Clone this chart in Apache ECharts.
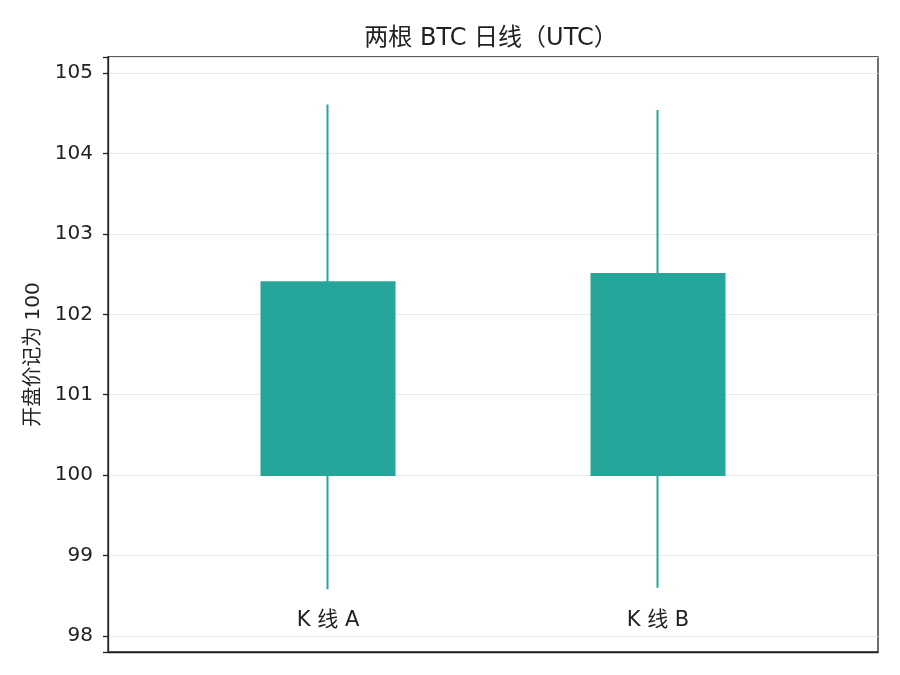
<!DOCTYPE html>
<html>
<head>
<meta charset="utf-8">
<script src="https://cdn.jsdelivr.net/npm/echarts@6/dist/echarts.min.js"></script>
<style>
  html, body { margin: 0; padding: 0; background: #fff; }
  #main { width: 900px; height: 675px; }
</style>
</head>
<body>
<div id="main"></div>
<script>
// 两根日线，开盘价统一记为 100
var slots = ["", "", "K 线 A", "", "", "K 线 B", "", ""];
var opens = [100, 100];
var closes = [102.4, 102.5];
var lows = [98.58, 98.6];
var highs = [104.61, 104.54];
var candleSlots = [2, 5];

var FONT = '"DejaVu Sans", "Noto Sans CJK JP", "Noto Sans CJK SC", sans-serif';
var UP = "#26A69A";

var kdata = slots.map(function () { return "-"; });
candleSlots.forEach(function (s, i) {
  kdata[s] = [opens[i], closes[i], lows[i], highs[i]];
});

var myChart = echarts.init(document.getElementById("main"));
var option = {
  animation: false,
  backgroundColor: "#fff",
  textStyle: { fontFamily: FONT },
  title: {
    text: "两根 BTC 日线（UTC）",
    left: 486,
    textAlign: "center",
    top: 22,
    textStyle: { fontFamily: FONT, fontSize: 24, fontWeight: "normal", color: "#222" },
  },
  grid: {
    left: 108,
    right: 22,
    top: 57,
    bottom: 23,
    show: true,
    borderColor: "#222",
    borderWidth: 1.3,
  },
  xAxis: {
    type: "category",
    data: slots,
    boundaryGap: false,
    axisLine: { show: true, lineStyle: { color: "#222", width: 1.3 } },
    axisTick: { show: false },
    splitLine: { show: false },
    axisLabel: {
      inside: true,
      margin: 21,
      interval: 0,
      fontFamily: FONT,
      fontSize: 21,
      color: "#222",
    },
  },
  yAxis: {
    type: "value",
    min: 97.8,
    max: 105.2,
    splitNumber: 7,
    minInterval: 1,
    maxInterval: 1,
    name: "开盘价记为 100",
    nameLocation: "middle",
    nameGap: 63,
    nameTextStyle: { fontFamily: FONT, fontSize: 20, color: "#222" },
    axisLine: { show: true, lineStyle: { color: "#222", width: 1.3 } },
    axisTick: { show: true, length: 5, lineStyle: { color: "#222", width: 1.3 } },
    axisLabel: {
      margin: 15,
      padding: [3, 0, 0, 0],
      fontFamily: FONT,
      fontSize: 20,
      color: "#222",
      formatter: function (v) {
        return Math.abs(v - Math.round(v)) < 1e-6 ? String(Math.round(v)) : "";
      },
    },
    splitLine: { show: true, lineStyle: { color: "#ebebeb", width: 1 } },
  },
  series: [
    {
      type: "candlestick",
      data: kdata,
      barWidth: 134,
      itemStyle: {
        color: UP,
        color0: "#EF5350",
        borderColor: UP,
        borderColor0: "#EF5350",
        borderWidth: 2,
      },
    },
  ],
};
myChart.setOption(option);
</script>
</body>
</html>
